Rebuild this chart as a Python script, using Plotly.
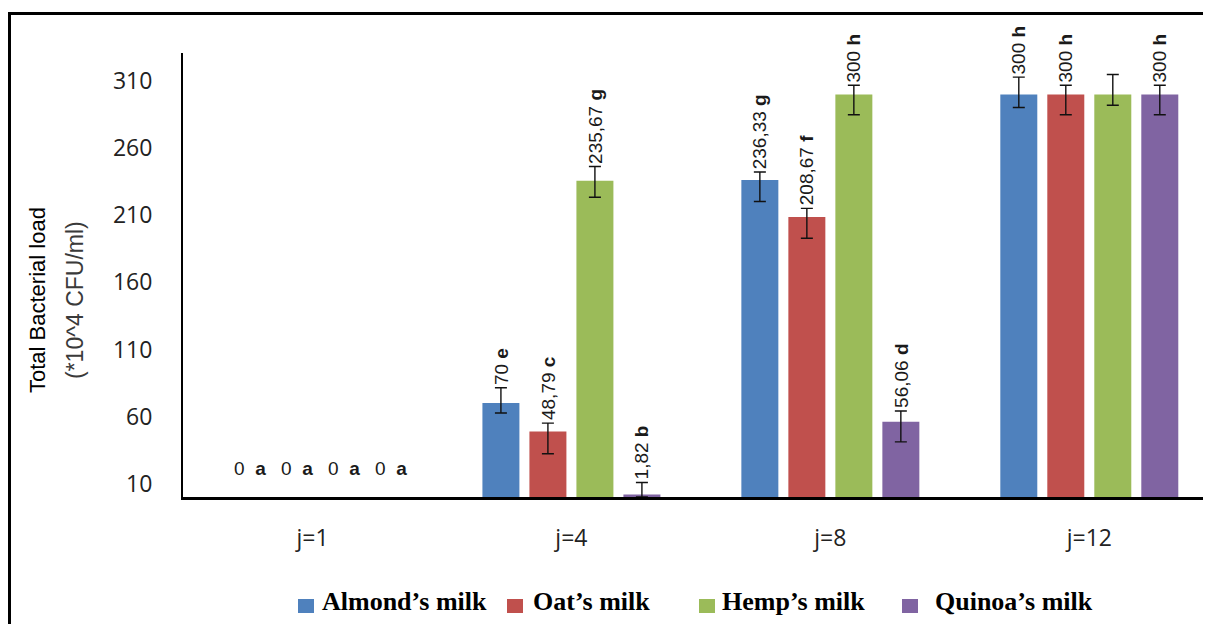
import plotly.graph_objects as go

# ---------------- data ----------------
categories = ["j=1", "j=4", "j=8", "j=12"]
series_names = ["Almond’s milk", "Oat’s milk", "Hemp’s milk", "Quinoa’s milk"]

almond = [0, 70, 236.33, 300]
oat = [0, 48.79, 208.67, 300]
hemp = [0, 235.67, 300, 300]
quinoa = [0, 1.82, 56.06, 300]

almond_err_plus = [0, 11.5, 6, 13]
almond_err_minus = [0, 7.4, 16, 9.6]
oat_err_plus = [0, 6.3, 6.5, 7]
oat_err_minus = [0, 16.6, 15.8, 15]
hemp_err_plus = [0, 10.7, 7, 15]
hemp_err_minus = [0, 12.2, 15, 8]
quinoa_err_plus = [0, 9, 8, 7]
quinoa_err_minus = [0, 1.82, 15, 15]

almond_letters = ["a", "e", "g", "h"]
oat_letters = ["a", "c", "f", "h"]
hemp_letters = ["a", "g", "h", None]
quinoa_letters = ["a", "b", "d", "h"]

y_ticks = [10, 60, 110, 160, 210, 260, 310]

colors = ["#4F81BD", "#C0504D", "#9BBB59", "#8064A2"]

# ---------------- layout constants ----------------
OFF = 8                      # page body margin of the html page
W, H = 1211 - OFF, 624 - OFF
L, R, T, B = 183 - OFF, 0, 53 - OFF, 127
PW = W - L - R
PH = H - T - B
X_RANGE = [-0.5, 3.47]
Y_RANGE = [0, 331]
BARGAP = 0.274
BARGROUPGAP = 0.213


def px2x(px):
    return (px - OFF - L) / PW


def py2y(py):
    return (H + OFF - B - py) / PH


values = [almond, oat, hemp, quinoa]
err_plus = [almond_err_plus, oat_err_plus, hemp_err_plus, quinoa_err_plus]
err_minus = [almond_err_minus, oat_err_minus, hemp_err_minus, quinoa_err_minus]
letters = [almond_letters, oat_letters, hemp_letters, quinoa_letters]

xs = list(range(len(categories)))

fig = go.Figure()
for k in range(4):
    # zero-height bars have nothing to show; leaving them out also avoids
    # drawing empty error-bar caps on the axis line
    y_plot = [v if v != 0 else None for v in values[k]]
    fig.add_trace(go.Bar(
        x=xs, y=y_plot, name=series_names[k],
        marker=dict(color=colors[k], line=dict(width=0)),
        error_y=dict(type="data", symmetric=False, array=err_plus[k],
                     arrayminus=err_minus[k], color="#111111",
                     thickness=1.4, width=6),
        showlegend=False,
    ))


def fmt(v):
    if float(v).is_integer():
        return str(int(v))
    return f"{v:.2f}".replace(".", ",")


slot = (1 - BARGAP) / 4
annotations = []
label_font = dict(family="Liberation Sans, Arial, sans-serif", size=19, color="#1a1a1a")
for k in range(4):
    for i in xs:
        let = letters[k][i]
        if let is None:
            continue
        v = values[k][i]
        xpos = i + (k - 1.5) * slot
        if v == 0:
            annotations.append(dict(x=xpos, y=0, xref="x", yref="y",
                                    text=f"{fmt(v)}  <b>{let}</b>",
                                    showarrow=False, xanchor="center", yanchor="middle",
                                    yshift=29, xshift=8, font=label_font))
        else:
            annotations.append(dict(x=xpos, y=v + err_plus[k][i], xref="x", yref="y",
                                    text=f"{fmt(v)} <b>{let}</b>", textangle=-90,
                                    showarrow=False, xanchor="center", yanchor="bottom",
                                    yshift=1, font=label_font))

# y-axis title (two lines)
annotations.append(dict(x=px2x(37), y=py2y(300), xref="paper", yref="paper",
                        text="Total Bacterial load", textangle=-90, showarrow=False,
                        xanchor="center", yanchor="middle",
                        font=dict(family="Liberation Sans, Arial, sans-serif",
                                  size=22, color="#000000")))
annotations.append(dict(x=px2x(75), y=py2y(300), xref="paper", yref="paper",
                        text="(*10^4 CFU/ml)", textangle=-90, showarrow=False,
                        xanchor="center", yanchor="middle",
                        font=dict(family="Liberation Sans, Arial, sans-serif",
                                  size=23, color="#3a3a3a")))

# manual legend
legend_sq_x = [298, 507, 699, 902]
legend_txt_x = [320, 531, 720, 933]
shapes = []
for k in range(4):
    shapes.append(dict(type="rect", xref="paper", yref="paper",
                       x0=px2x(legend_sq_x[k]), x1=px2x(legend_sq_x[k] + 16),
                       y0=py2y(613), y1=py2y(599),
                       fillcolor=colors[k], line=dict(width=0)))
    annotations.append(dict(x=px2x(legend_txt_x[k]), y=py2y(601), xref="paper", yref="paper",
                            text=f"<b>{series_names[k]}</b>", showarrow=False,
                            xanchor="left", yanchor="middle",
                            font=dict(family="Liberation Serif, Times New Roman, serif",
                                      size=26, color="#000000")))

# outer frame (top and left edges visible)
shapes.append(dict(type="line", xref="paper", yref="paper",
                   x0=px2x(8), x1=px2x(1212), y0=py2y(13.5), y1=py2y(13.5),
                   line=dict(color="#000000", width=3)))
shapes.append(dict(type="line", xref="paper", yref="paper",
                   x0=px2x(9.5), x1=px2x(9.5), y0=py2y(12), y1=py2y(630),
                   line=dict(color="#000000", width=3)))

tick_font = dict(family="Open Sans, DejaVu Sans, sans-serif", size=23, color="#222222")

fig.update_layout(
    width=W, height=H,
    margin=dict(l=L, r=R, t=T, b=B, pad=0),
    paper_bgcolor="white", plot_bgcolor="white",
    barmode="group", bargap=BARGAP, bargroupgap=BARGROUPGAP,
    xaxis=dict(range=X_RANGE, tickvals=xs, ticktext=categories, showgrid=False,
               zeroline=False, showline=True, linecolor="#000000", linewidth=3,
               ticks="", tickfont=tick_font, ticklabelstandoff=18, fixedrange=True),
    yaxis=dict(range=Y_RANGE, tickvals=y_ticks, showgrid=False, zeroline=False,
               showline=True, linecolor="#000000", linewidth=2, ticks="",
               tickfont=tick_font, ticklabelstandoff=24, fixedrange=True),
    annotations=annotations,
    shapes=shapes,
    showlegend=False,
)

fig.write_html("out.html")
